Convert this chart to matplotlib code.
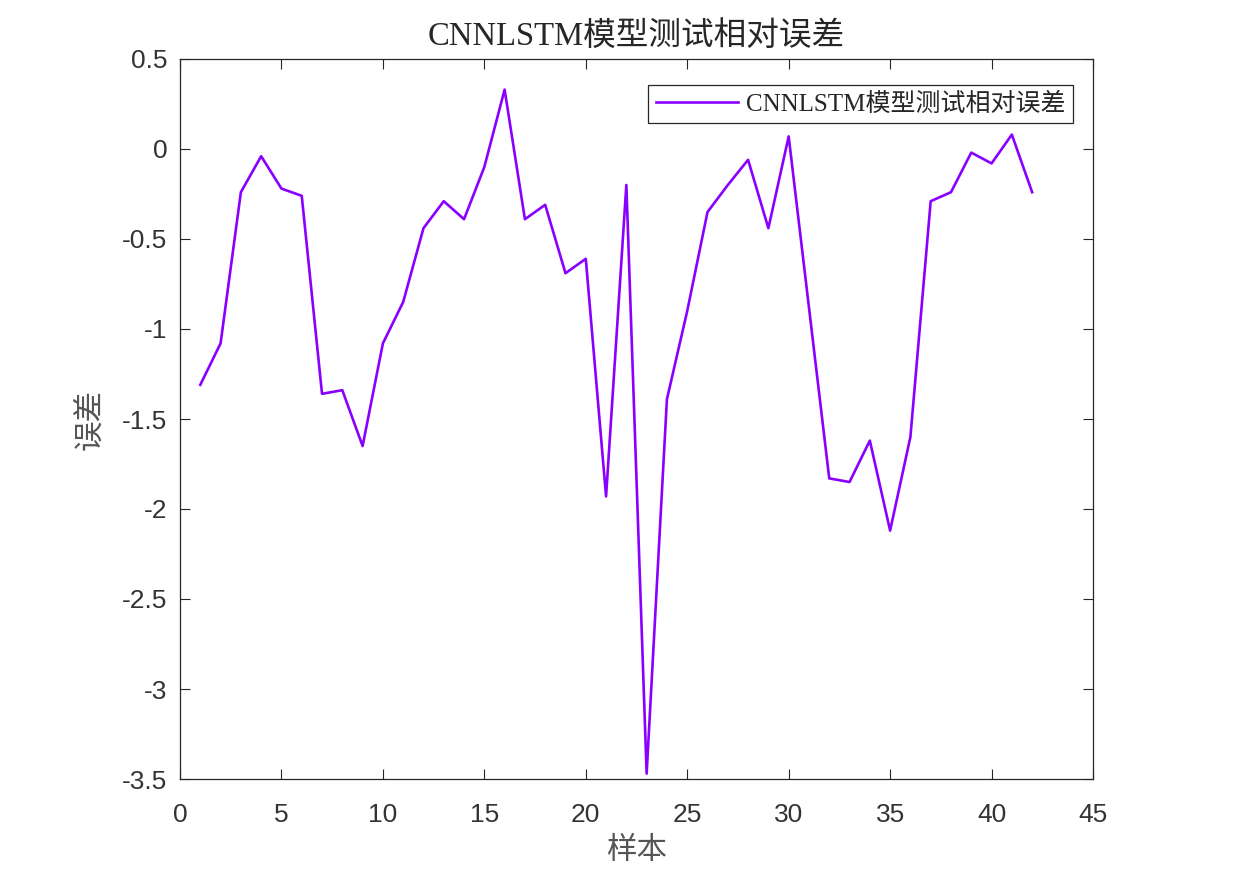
import matplotlib
matplotlib.use("Agg")
import matplotlib.pyplot as plt

# sample index and relative error
samples = list(range(1, 43))
errors = [-1.31, -1.08, -0.24, -0.04, -0.22, -0.26, -1.36, -1.34, -1.65, -1.08,
          -0.85, -0.44, -0.29, -0.39, -0.10, 0.33, -0.39, -0.31, -0.69, -0.61,
          -1.93, -0.20, -3.47, -1.39, -0.90, -0.35, -0.20, -0.06, -0.44, 0.07,
          -0.88, -1.83, -1.85, -1.62, -2.12, -1.60, -0.29, -0.24, -0.02, -0.08,
          0.08, -0.24]
xticks = [0, 5, 10, 15, 20, 25, 30, 35, 40, 45]
yticks = [0.5, 0, -0.5, -1, -1.5, -2, -2.5, -3, -3.5]
title = "CNNLSTM模型测试相对误差"

serif_cjk = ["Liberation Serif", "Noto Sans CJK SC"]
cjk = ["Noto Sans CJK SC", "DejaVu Sans"]

fig = plt.figure(figsize=(12.45, 8.72), dpi=100)
ax = fig.add_axes([180 / 1245, 1 - 779 / 872, 913 / 1245, 720 / 872])

ax.plot(samples, errors, color="#8a00ff", linewidth=1.9, label=title)

ax.set_xlim(0, 45)
ax.set_ylim(-3.5, 0.5)
ax.set_xticks(xticks)
ax.set_yticks(yticks)
ax.set_yticklabels([f"{t:g}" for t in yticks])
ax.tick_params(direction="in", top=True, right=True, length=7, width=0.8,
               labelsize=19, labelcolor="#333333", color="#262626")
ax.tick_params(axis="x", pad=17)
ax.tick_params(axis="y", pad=9)
for lab in ax.get_xticklabels() + ax.get_yticklabels():
    lab.set_fontfamily(["Liberation Sans", "DejaVu Sans"])
for s in ax.spines.values():
    s.set_color("#262626")
    s.set_linewidth(0.9)

ax.set_title(title, family=serif_cjk, fontsize=23.5, color="#262626", pad=10)
ax.set_xlabel("样本", family=cjk, fontsize=22, color="#555555", labelpad=6)
ax.set_ylabel("误差", family=cjk, fontsize=22, color="#555555", labelpad=12)

leg = ax.legend(loc="upper right", bbox_to_anchor=(0.978, 0.964),
                prop={"family": serif_cjk, "size": 18}, fancybox=False,
                edgecolor="#262626", framealpha=1, handlelength=3.3,
                borderpad=0.3, handletextpad=0.3, borderaxespad=0)
leg.get_frame().set_linewidth(0.9)
for t in leg.get_texts():
    t.set_color("#262626")

fig.savefig("out.png", dpi=100, facecolor="white")
